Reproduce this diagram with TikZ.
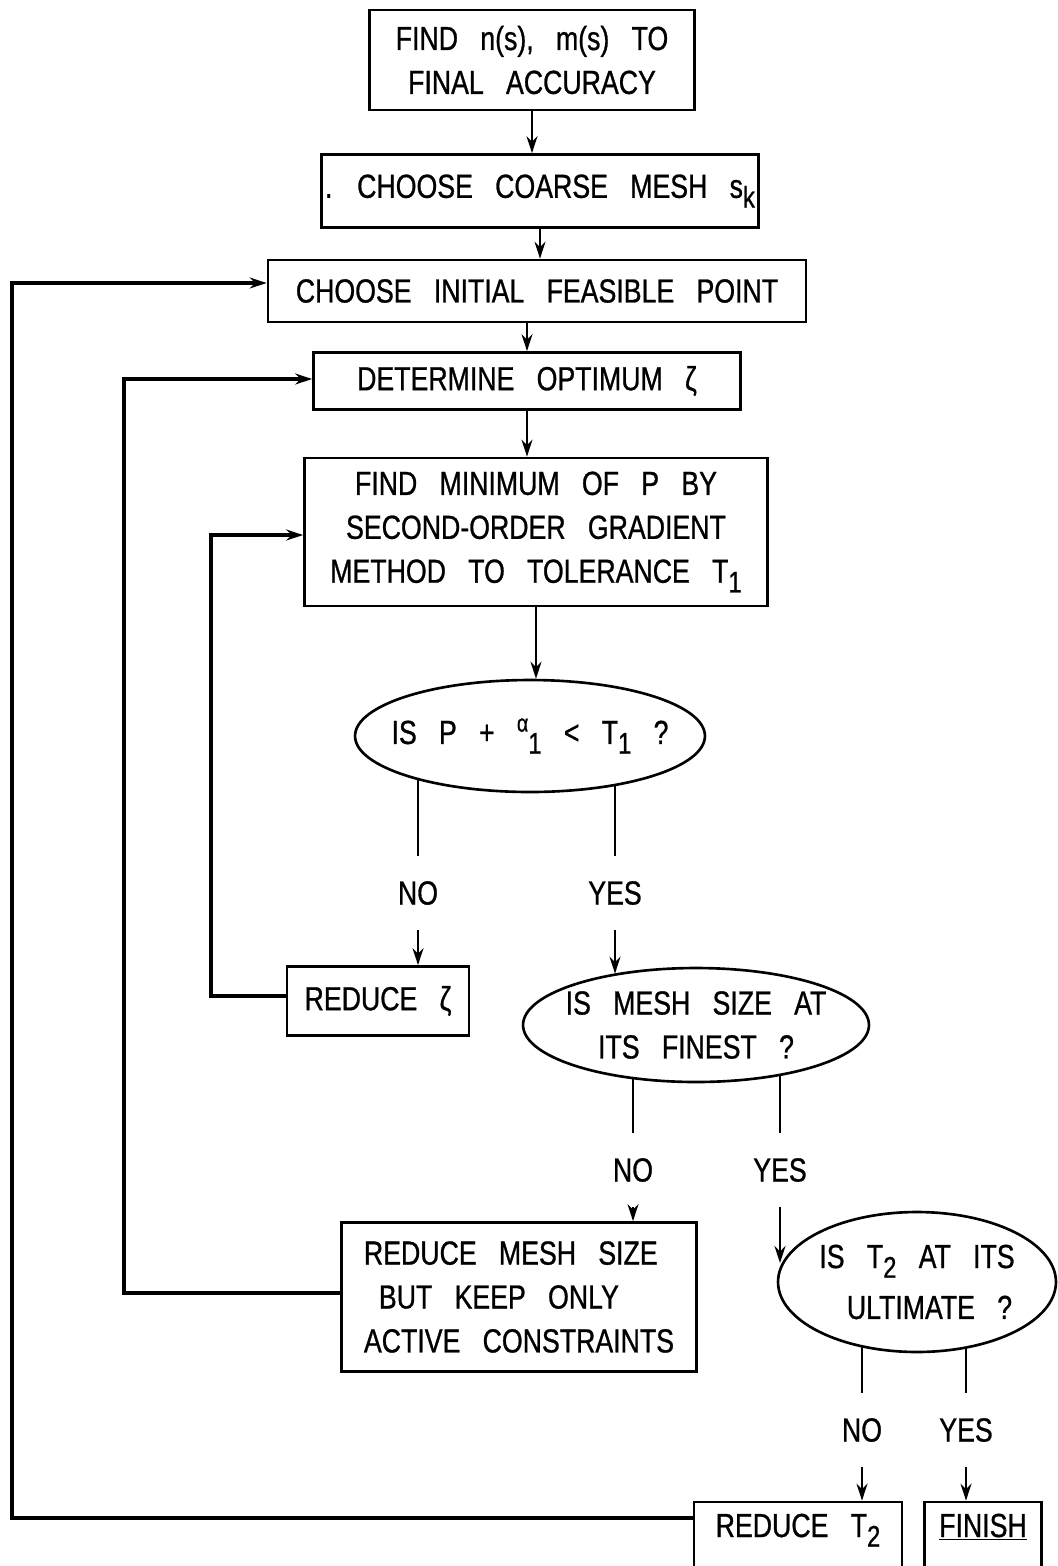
\documentclass[tikz,border=0pt]{standalone}
\usepackage{fontspec}
\setmainfont{Liberation Sans}[FakeStretch=0.8,WordSpace=3,FakeBold=0.8]
\usetikzlibrary{arrows.meta,shapes.geometric,backgrounds}
\newcommand{\subidx}[1]{\raisebox{-0.55ex}{\fontsize{17}{17}\selectfont #1}}

\begin{document}
\begin{tikzpicture}[x=0.02cm,y=-0.02cm,
  >={Stealth[length=3.4mm,width=2.2mm]},
  every node/.style={font=\fontsize{19}{25}\selectfont},
  proc/.style={draw,line width=1.6pt,inner sep=0pt,align=center},
  test/.style={draw,ellipse,line width=1.5pt,fill=white,inner sep=0pt,align=center},
  answer/.style={inner xsep=2pt,inner ysep=14pt},
  flow/.style={->,line width=1.2pt},
  back/.style={->,line width=2pt}]
  \useasboundingbox (0,0) rectangle (1058,1566);

  % Blocchi
  \node[proc,minimum width=6.5cm,minimum height=2cm] (fnd) at (532,60) {FIND n(s), m(s) TO\\FINAL ACCURACY};
  \node[proc,minimum width=8.74cm,minimum height=1.46cm] (coarse) at (540,191) {. CHOOSE COARSE MESH s\subidx{k}};
  \node[proc,minimum width=10.76cm,minimum height=1.24cm] (init) at (537,291) {CHOOSE INITIAL FEASIBLE POINT};
  \node[proc,minimum width=8.54cm,minimum height=1.14cm] (opt) at (527,381) {DETERMINE OPTIMUM ζ};
  \node[proc,minimum width=9.26cm,minimum height=2.96cm] (fmin) at (536,532) {FIND MINIMUM OF P BY\\SECOND-ORDER GRADIENT\\METHOD TO TOLERANCE T\subidx{1}};
  \node[test,minimum width=7cm,minimum height=2.24cm,inner xsep=-0.6cm] (isP) at (530,736) {IS P + \raisebox{0.7ex}{\fontsize{14}{14}\selectfont α}\subidx{1} < T\subidx{1} ?};
  \node[answer] (no1) at (418,893) {NO};
  \node[answer] (yes1) at (615,893) {YES};
  \node[proc,minimum width=3.64cm,minimum height=1.38cm] (rzeta) at (378,1001) {REDUCE ζ};
  \node[test,minimum width=6.92cm,minimum height=2.28cm,inner xsep=-0.35cm] (isMesh) at (696,1025) {IS MESH SIZE AT\\ITS FINEST ?};
  \node[answer] (no2) at (633,1170) {NO};
  \node[answer] (yes2) at (780,1170) {YES};
  \node[proc,minimum width=7.1cm,minimum height=2.98cm,align=left] (rmesh) at (519,1297) {REDUCE MESH SIZE\\\hspace*{0.3cm}BUT KEEP ONLY\\ACTIVE CONSTRAINTS};
  \node[test,minimum width=5.56cm,minimum height=2.8cm,inner xsep=-0.1cm] (isT) at (917,1282) {IS T\subidx{2} AT ITS\\[4pt]\hspace*{0.5cm}ULTIMATE ?};
  \node[answer] (no3) at (862,1430) {NO};
  \node[answer] (yes3) at (966,1430) {YES};
  \node[proc,minimum width=4.16cm,minimum height=1.56cm,text height=0.5cm,text depth=0.66cm] (rT) at (798,1541) {REDUCE T\subidx{2}};
  \node[proc,minimum width=2.34cm,minimum height=1.56cm,text height=0.5cm,text depth=0.66cm] (fin) at (983,1541) {\underline{FINISH}};

  % Linea principale
  \draw[flow] (fnd.south) -- (fnd.south |- coarse.north);
  \draw[flow] (coarse.south) -- (coarse.south |- init.north);
  \draw[flow] (opt.south |- init.south) -- (opt.north);
  \draw[flow] (opt.south) -- (opt.south |- fmin.north);
  \draw[flow] (fmin.south) -- (fmin.south |- isP.north);

  % Uscite dalle domande
  \begin{scope}[on background layer]
    \draw[line width=1.2pt] (isP.center -| no1) -- (no1.north);
    \draw[line width=1.2pt] (isP.center -| yes1) -- (yes1.north);
    \draw[line width=1.2pt] (isMesh.center -| no2) -- (no2.north);
    \draw[line width=1.2pt] (isMesh.center -| yes2) -- (yes2.north);
    \draw[line width=1.2pt] (isT.center -| no3) -- (no3.north);
    \draw[line width=1.2pt] (isT.center -| yes3) -- (yes3.north);
  \end{scope}
  \draw[flow] (no1.south) -- (no1.south |- rzeta.north);
  \draw[flow] (yes1.south) -- (yes1.south |- isMesh.148);
  \draw[flow] (no2.south) -- (no2.south |- rmesh.north);
  \draw[flow] (yes2.south) -- (yes2.south |- isT.172);
  \draw[flow] (no3.south) -- (no3.south |- rT.north);
  \draw[flow] (yes3.south) -- (yes3.south |- fin.north);

  % Ritorni
  \coordinate (c1) at (12,1518);
  \coordinate (c2) at (12,283);
  \draw[back] (c1 -| rT.west) -- (c1) -- (c2) -- (c2 -| init.west);
  \coordinate (c3) at (124,1293);
  \coordinate (c4) at (124,379);
  \draw[back] (c3 -| rmesh.west) -- (c3) -- (c4) -- (c4 -| opt.west);
  \coordinate (c5) at (211,996);
  \coordinate (c6) at (211,535);
  \draw[back] (c5 -| rzeta.west) -- (c5) -- (c6) -- (c6 -| fmin.west);
\end{tikzpicture}
\end{document}
